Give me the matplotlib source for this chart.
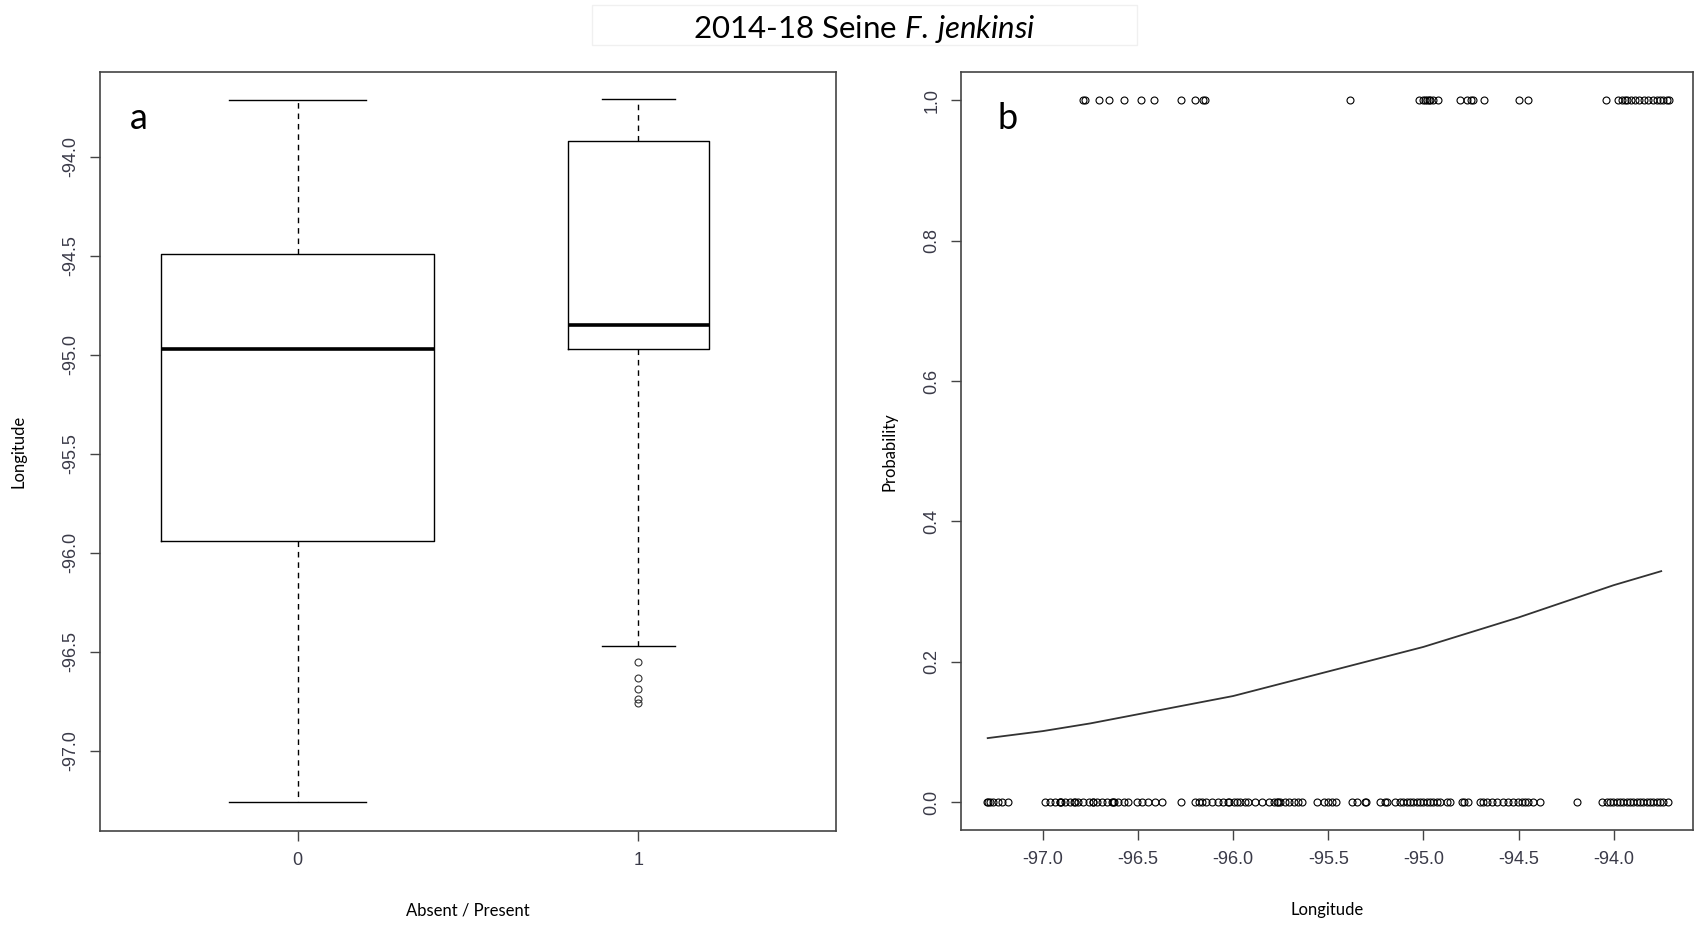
import matplotlib
matplotlib.use('Agg')
import matplotlib.pyplot as plt
from matplotlib.patches import Rectangle

plt.rcParams['axes.unicode_minus'] = False
plt.rcParams['mathtext.fontset'] = 'custom'
plt.rcParams['mathtext.rm'] = 'Lato'
plt.rcParams['mathtext.it'] = 'Lato:italic'

# --- panel a: boxplot summary (longitude by absent / present) ---
groups = ['0', '1']
box_whislo = [-97.26, -96.47]
box_q1 = [-95.94, -94.97]
box_med = [-94.97, -94.85]
box_q3 = [-94.49, -93.92]
box_whishi = [-93.715, -93.71]
box_fliers = [[], [-96.55, -96.63, -96.69, -96.74, -96.76]]
lon_ticks = [-97.0, -96.5, -96.0, -95.5, -95.0, -94.5, -94.0]

# --- panel b: observations and fitted probability ---
present_lon = [-96.790, -96.781, -96.704, -96.652, -96.571, -96.483, -96.415,
               -96.275, -96.200, -96.156, -96.147, -95.385, -95.021, -95.000,
               -94.990, -94.979, -94.970, -94.965, -94.947, -94.921, -94.807,
               -94.772, -94.751, -94.741, -94.681, -94.496, -94.448, -94.040,
               -93.975, -93.957, -93.940, -93.928, -93.910, -93.888, -93.865,
               -93.840, -93.820, -93.795, -93.770, -93.756, -93.739, -93.721,
               -93.707]
absent_lon = [-97.294, -97.290, -97.277, -97.260, -97.236, -97.215, -97.181,
              -96.988, -96.962, -96.935, -96.912, -96.909, -96.905, -96.883,
              -96.857, -96.834, -96.830, -96.813, -96.787, -96.760, -96.739,
              -96.735, -96.716, -96.690, -96.664, -96.637, -96.630, -96.624,
              -96.603, -96.576, -96.550, -96.506, -96.480, -96.445, -96.410,
              -96.375, -96.273, -96.200, -96.182, -96.165, -96.144, -96.112,
              -96.077, -96.051, -96.025, -96.020, -95.998, -95.981, -95.963,
              -95.937, -95.920, -95.884, -95.849, -95.814, -95.783, -95.770,
              -95.765, -95.753, -95.727, -95.704, -95.678, -95.657, -95.639,
              -95.560, -95.525, -95.499, -95.481, -95.459, -95.376, -95.350,
              -95.306, -95.303, -95.228, -95.201, -95.192, -95.149, -95.122,
              -95.105, -95.087, -95.070, -95.053, -95.035, -95.017, -95.000,
              -94.982, -94.965, -94.947, -94.930, -94.912, -94.877, -94.860,
              -94.798, -94.786, -94.764, -94.702, -94.685, -94.667, -94.641,
              -94.614, -94.583, -94.553, -94.527, -94.501, -94.483, -94.466,
              -94.448, -94.422, -94.387, -94.194, -94.063, -94.036, -94.019,
              -94.001, -93.984, -93.966, -93.949, -93.931, -93.914, -93.896,
              -93.879, -93.861, -93.844, -93.826, -93.809, -93.791, -93.774,
              -93.756, -93.739, -93.713]
curve_lon = [-97.29, -97.0, -96.75, -96.5, -96.0, -95.5, -95.0, -94.5, -94.0, -93.75]
curve_prob = [0.091, 0.101, 0.112, 0.125, 0.151, 0.186, 0.221, 0.263, 0.309, 0.329]
prob_ticks = [0.0, 0.2, 0.4, 0.6, 0.8, 1.0]

tick_font = dict(family=['Liberation Sans Narrow', 'Liberation Sans'], size=13, color='#3a3a48')
label_font = dict(family=['Lato', 'DejaVu Sans'], size=12, color='black')
spine_col = '#444444'

fig = plt.figure(figsize=(16.95, 9.25), dpi=100)
ax1 = fig.add_axes([0.0590, 0.1016, 0.4342, 0.8205])
ax2 = fig.add_axes([0.5670, 0.1027, 0.4317, 0.8190])

# panel a (box widths vary with group size, as in R varwidth)
stats = []
for i in range(len(groups)):
    stats.append(dict(label=groups[i], whislo=box_whislo[i], q1=box_q1[i], med=box_med[i],
                      q3=box_q3[i], whishi=box_whishi[i], fliers=box_fliers[i]))
ax1.bxp(stats, positions=[1, 2], widths=[0.8, 0.413], capwidths=[0.4, 0.214],
        boxprops=dict(color='black', lw=1.0),
        medianprops=dict(color='black', lw=2.6, solid_capstyle='butt'),
        whiskerprops=dict(color='black', lw=1.0, linestyle=(0, (4, 3.5))),
        capprops=dict(color='black', lw=1.0),
        flierprops=dict(marker='o', markerfacecolor='none', markeredgecolor='#333333',
                        markersize=5, markeredgewidth=0.8))
ax1.set_xlim(0.42, 2.58)
ax1.set_ylim(-97.405, -93.572)
ax1.set_yticks(lon_ticks)
ax1.set_yticklabels(['%.1f' % v for v in lon_ticks], rotation=90, va='center', **tick_font)
ax1.set_xticks([1, 2])
ax1.set_xticklabels(groups, **tick_font)
ax1.set_xlabel('Absent / Present', va='center', **label_font)
ax1.xaxis.set_label_coords(0.5, -0.105)
ax1.set_ylabel('Longitude', va='center', **label_font)
ax1.yaxis.set_label_coords(-0.111, 0.5)
ax1.text(0.04, 0.925, 'a', transform=ax1.transAxes, fontsize=26, family='Lato', ha='left', va='baseline')

# panel b
ax2.plot(present_lon, [1] * len(present_lon), 'o', mfc='none', mec='black', ms=5, mew=0.8)
ax2.plot(absent_lon, [0] * len(absent_lon), 'o', mfc='none', mec='black', ms=5, mew=0.8)
ax2.plot(curve_lon, curve_prob, color='#333333', lw=1.3)
ax2.set_xlim(-97.43, -93.584)
ax2.set_ylim(-0.04, 1.04)
ax2.set_xticks(lon_ticks)
ax2.set_xticklabels(['%.1f' % v for v in lon_ticks], **tick_font)
ax2.set_yticks(prob_ticks)
ax2.set_yticklabels(['%.1f' % v for v in prob_ticks], rotation=90, va='center', **tick_font)
ax2.set_xlabel('Longitude', va='center', **label_font)
ax2.xaxis.set_label_coords(0.5, -0.105)
ax2.set_ylabel('Probability', va='center', **label_font)
ax2.yaxis.set_label_coords(-0.098, 0.5)
ax2.text(0.05, 0.925, 'b', transform=ax2.transAxes, fontsize=26, family='Lato', ha='left', va='baseline')

for ax in (ax1, ax2):
    for s in ax.spines.values():
        s.set_color(spine_col)
        s.set_linewidth(1.2)
    ax.tick_params(direction='out', length=7, width=1.0, color=spine_col, pad=8)

# title with faint frame
fig.patches.append(Rectangle((0.349, 0.9514), 0.322, 0.0432, transform=fig.transFigure,
                             facecolor='white', edgecolor='#f0f0f0', lw=1.0))
fig.text(0.510, 0.9686, r'2014-18 Seine $\mathit{F.\,jenkinsi}$', ha='center', va='center',
         fontsize=22.5, family='Lato')

fig.savefig('out.png', dpi=100, facecolor='white')
